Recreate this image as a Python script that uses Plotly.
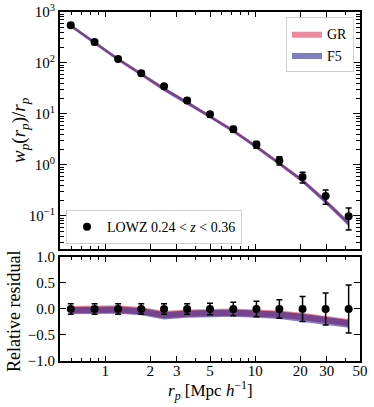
import plotly.graph_objects as go
import numpy as np

# ---- data ----
rp = [0.59, 0.85, 1.22, 1.74, 2.47, 3.52, 5.0, 7.15, 10.2, 14.5, 20.7, 29.5, 42.0]
wp_over_rp = [550, 257, 120, 63, 35, 18.4, 9.8, 5.0, 2.5, 1.22, 0.58, 0.245, 0.098]
rel_err = [0.10, 0.10, 0.10, 0.10, 0.10, 0.10, 0.11, 0.13, 0.15, 0.18, 0.24, 0.31, 0.46]

gr_upper = [0.06, 0.06, 0.07, 0.04, -0.04, -0.01, 0.00, 0.01, -0.01, -0.03, -0.07, -0.13, -0.19]
gr_lower = [-0.08, -0.08, -0.07, -0.10, -0.18, -0.15, -0.14, -0.13, -0.15, -0.17, -0.21, -0.27, -0.33]
f5_upper = [0.04, 0.04, 0.05, 0.02, -0.06, -0.03, -0.02, -0.01, -0.03, -0.05, -0.09, -0.15, -0.21]
f5_lower = [-0.10, -0.10, -0.09, -0.12, -0.20, -0.17, -0.16, -0.15, -0.17, -0.19, -0.24, -0.30, -0.36]

x_tickvals = [1, 2, 3, 5, 10, 20, 30, 50]
x_ticktext = ["1", "2", "3", "5", "10", "20", "30", "50"]

FONT = "Liberation Serif"
GR_COL = "rgba(220,20,60,0.5)"
F5_COL = "rgba(0,0,128,0.5)"

rp_a = np.array(rp)
wp_a = np.array(wp_over_rp)
err_a = np.array(rel_err)

fig = go.Figure()

def band(x, lo, hi, color, name, xa, ya, show):
    xs = list(x) + list(x)[::-1]
    ys = list(hi) + list(lo)[::-1]
    return go.Scatter(x=xs, y=ys, fill="toself", fillcolor=color, mode="lines",
                      line=dict(width=0, color=color), name=name, legendgroup=name,
                      showlegend=show, legend="legend", xaxis=xa, yaxis=ya,
                      hoverinfo="skip")

for name, lo, hi, col in [("GR", gr_lower, gr_upper, GR_COL), ("F5", f5_lower, f5_upper, F5_COL)]:
    lo_a = np.array(lo); hi_a = np.array(hi)
    fig.add_trace(band(rp_a, wp_a * (1 + lo_a), wp_a * (1 + hi_a), col, name, "x", "y", True))
    fig.add_trace(band(rp_a, lo_a, hi_a, col, name, "x2", "y2", False))

fig.add_trace(go.Scatter(
    x=rp, y=wp_over_rp, mode="markers", name="LOWZ 0.24 &lt; <i>z</i> &lt; 0.36",
    marker=dict(color="black", size=8),
    error_y=dict(type="data", array=list(wp_a * err_a), color="black", thickness=1.5, width=3),
    xaxis="x", yaxis="y", legend="legend2"))

fig.add_trace(go.Scatter(
    x=rp, y=[0] * len(rp), mode="markers", showlegend=False,
    marker=dict(color="black", size=8),
    error_y=dict(type="data", array=rel_err, color="black", thickness=1.5, width=3),
    xaxis="x2", yaxis="y2"))

minor_x = [0.6, 0.7, 0.8, 0.9, 4, 6, 7, 8, 9, 40]
minor_y = [k * 10.0 ** n for n in range(-2, 3) for k in range(2, 10)]

axis_common = dict(showline=True, linewidth=2, linecolor="black", mirror="allticks",
                   ticks="inside", tickcolor="black", showgrid=False, zeroline=False,
                   automargin=False,
                   tickfont=dict(family=FONT, size=15, color="black"))

fig.update_layout(
    width=374, height=407,
    margin=dict(l=60, r=14, t=12, b=46),
    paper_bgcolor="white", plot_bgcolor="white",
    font=dict(family=FONT, color="black"),
    xaxis=dict(type="log", range=[np.log10(0.5), np.log10(50)], domain=[0, 1],
               anchor="y", tickmode="array", tickvals=x_tickvals, ticktext=x_ticktext,
               showticklabels=False, ticklen=5, tickwidth=1,
               minor=dict(tickmode="array", tickvals=minor_x, ticks="inside", ticklen=3, tickcolor="black"),
               **axis_common),
    yaxis=dict(type="log", range=[-1.65, 3.0], domain=[0.321, 1], anchor="x",
               tickmode="array", tickvals=[0.1, 1, 10, 100, 1000],
               ticktext=["10<sup>−1</sup>", "10<sup>0</sup>", "10<sup>1</sup>", "10<sup>2</sup>", "10<sup>3</sup>"],
               ticklen=7, tickwidth=1,
               minor=dict(tickmode="array", tickvals=minor_y, ticks="inside", ticklen=4, tickcolor="black"),
               **axis_common),
    xaxis2=dict(type="log", range=[np.log10(0.5), np.log10(50)], domain=[0, 1],
                anchor="y2", tickmode="array", tickvals=x_tickvals, ticktext=x_ticktext,
                ticklen=5, tickwidth=1, ticklabelstandoff=-5,
                minor=dict(tickmode="array", tickvals=minor_x, ticks="inside", ticklen=3, tickcolor="black"),
                **axis_common),
    yaxis2=dict(range=[-1.0, 1.0], domain=[0, 0.298], anchor="x2",
                tickmode="array", tickvals=[-1.0, -0.5, 0.0, 0.5, 1.0],
                ticktext=["−1.0", "−0.5", "0.0", "0.5", "1.0"],
                ticklen=6, tickwidth=1,
                **axis_common),
    legend=dict(x=0.98, y=0.985, xanchor="right", yanchor="top",
                bgcolor="white", bordercolor="#d0d0d0", borderwidth=1,
                font=dict(family=FONT, size=14), itemwidth=30, tracegroupgap=0),
    legend2=dict(x=0.02, y=0.335, xanchor="left", yanchor="bottom",
                 bgcolor="white", bordercolor="#d0d0d0", borderwidth=1,
                 font=dict(family=FONT, size=14)),
    showlegend=True,
    annotations=[
        dict(text="<i>w</i><sub><i>p</i></sub>(<i>r</i><sub><i>p</i></sub>)/<i>r</i><sub><i>p</i></sub>",
             x=20, y=130, xref="paper", yref="paper", showarrow=False, textangle=-90,
             font=dict(family=FONT, size=19), xanchor="center", yanchor="middle"),
        dict(text="Relative residual",
             x=14, y=312, xref="paper", yref="paper", showarrow=False, textangle=-90,
             font=dict(family=FONT, size=18), xanchor="center", yanchor="middle"),
        dict(text="<i>r</i><sub><i>p</i></sub> [Mpc <i>h</i><sup>−1</sup>]",
             x=210, y=390, xref="paper", yref="paper", showarrow=False,
             font=dict(family=FONT, size=17), xanchor="center", yanchor="middle"),
    ],
)

# convert annotation pixel positions to paper coordinates
W, H = 374, 407
l, r, t, b = 60, 14, 12, 46
pw, ph = W - l - r, H - t - b
for ann in fig.layout.annotations:
    px, py = ann.x, ann.y
    ann.x = (px - l) / pw
    ann.y = (H - b - py) / ph

fig.write_html("out.html", config={"displayModeBar": False},
               post_script="document.body.style.margin='0';document.body.style.overflow='hidden';")
